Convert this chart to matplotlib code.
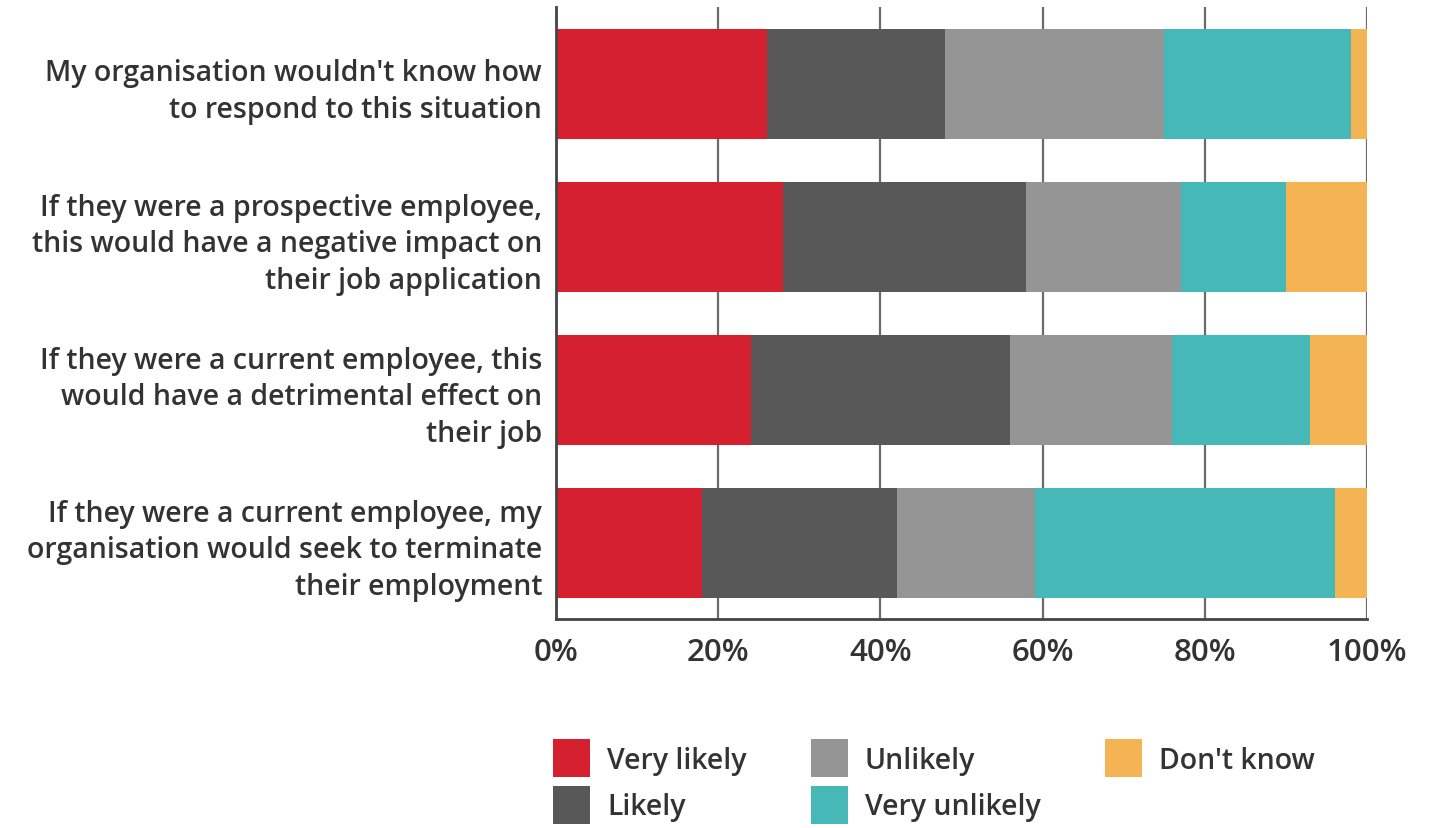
import matplotlib.pyplot as plt
import numpy as np

# survey statements (top to bottom)
statements = [
    "My organisation wouldn't know how\nto respond to this situation",
    "If they were a prospective employee,\nthis would have a negative impact on\ntheir job application",
    "If they were a current employee, this\nwould have a detrimental effect on\ntheir job",
    "If they were a current employee, my\norganisation would seek to terminate\ntheir employment",
]
responses = ["Very likely", "Likely", "Unlikely", "Very unlikely", "Don't know"]

# percentages per response
very_likely = [26, 28, 24, 18]
likely = [22, 30, 32, 24]
unlikely = [27, 19, 20, 17]
very_unlikely = [23, 13, 17, 37]
dont_know = [2, 10, 7, 4]

colors = ["#D52030", "#575857", "#949594", "#46B8B8", "#F5B453"]
text_col = "#333333"

plt.rcParams['font.family'] = ['Open Sans', 'DejaVu Sans']

fig = plt.figure(figsize=(14.33, 8.29), dpi=100)
ax = fig.add_axes([0.388, 0.252, 0.566, 0.738])

y = np.arange(len(statements))
left = np.zeros(len(statements))
for vals, name, c in zip([very_likely, likely, unlikely, very_unlikely, dont_know], responses, colors):
    ax.barh(y, vals, left=left, height=0.72, color=c, label=name, zorder=2)
    left += np.array(vals)

ax.set_xlim(0, 100)
ax.set_ylim(3.5, -0.5)
ax.set_xticks([0, 20, 40, 60, 80, 100])
ax.set_xticklabels(["0%", "20%", "40%", "60%", "80%", "100%"])
ax.set_yticks(y)
ax.set_yticklabels(statements, ha="right", multialignment="right")

ax.grid(axis="x", color="#6b6b6b", linewidth=1.6, zorder=1)
ax.tick_params(axis="both", length=0)
ax.tick_params(axis="x", labelsize=22.5, pad=13, labelcolor=text_col)
ax.tick_params(axis="y", labelsize=20.5, pad=10, labelcolor=text_col)
for lab in ax.get_xticklabels():
    lab.set_fontweight("semibold")
for lab in ax.get_yticklabels():
    lab.set_fontweight("semibold")
    lab.set_linespacing(1.33)

for side in ["top", "right"]:
    ax.spines[side].set_visible(False)
for side in ["left", "bottom"]:
    ax.spines[side].set_color("#444444")
    ax.spines[side].set_linewidth(2)

leg = fig.legend(loc="upper left", bbox_to_anchor=(0.386, 0.107), ncol=3, frameon=False,
                 fontsize=20.5, handlelength=1.3, handleheight=1.68, handletextpad=0.6,
                 columnspacing=2.25, labelspacing=0.3, borderaxespad=0, borderpad=0)
for t in leg.get_texts():
    t.set_color(text_col)
    t.set_fontweight("semibold")

fig.savefig("out.png", dpi=100)
